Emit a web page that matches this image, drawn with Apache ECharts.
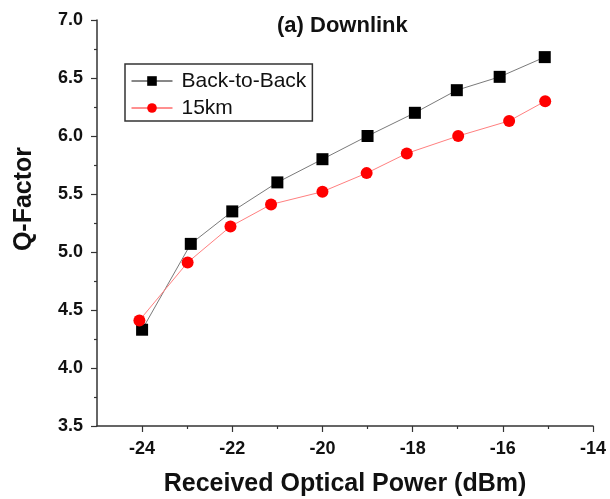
<!DOCTYPE html>
<html>
<head>
<meta charset="utf-8">
<script src="https://cdn.jsdelivr.net/npm/echarts@6/dist/echarts.min.js"></script>
<style>
html,body{margin:0;padding:0;background:#fff;}
#chart{width:610px;height:499px;}
</style>
</head>
<body>
<div id="chart"></div>
<script>
// ---- data ----
const titleText = '(a) Downlink';
const xName = 'Received Optical Power (dBm)';
const yName = 'Q-Factor';
const seriesNames = ['Back-to-Back', '15km'];
const b2bX = [-24, -22.92, -22, -21, -20, -19, -17.95, -17.02, -16.07, -15.07];
const b2bY = [4.33, 5.07, 5.35, 5.60, 5.80, 6.00, 6.20, 6.395, 6.51, 6.68];
const km15X = [-24.06, -22.99, -22.04, -21.14, -20.0, -19.02, -18.13, -16.99, -15.86, -15.06];
const km15Y = [4.41, 4.91, 5.22, 5.41, 5.52, 5.68, 5.85, 6.00, 6.13, 6.30];
const xMajorTicks = [-24, -22, -20, -18, -16, -14];
const xMinorTicks = [-23, -21, -19, -17, -15];
const yMin = 3.5, yMax = 7.0, yStep = 0.5;
const xMin = -25, xMax = -14;

const FONT = '"Liberation Sans", Arial, sans-serif';
const AXIS_COLOR = '#333';

const chart = echarts.init(document.getElementById('chart'), null, {renderer: 'canvas'});
chart.setOption({
  backgroundColor: '#fff',
  animation: false,
  title: {
    text: titleText,
    left: 277, top: 15, padding: 0,
    textStyle: {fontFamily: FONT, fontSize: 22, fontWeight: 'bold', color: '#111'}
  },
  legend: {
    orient: 'vertical',
    left: 125, top: 64,
    padding: [6, 6, 2, 6],
    borderColor: '#333', borderWidth: 1.5,
    itemWidth: 41, itemHeight: 12, itemGap: 5,
    textStyle: {fontFamily: FONT, fontSize: 21, color: '#111', lineHeight: 22, padding: [0, 0, 0, 4]},
    data: [
      {name: seriesNames[0], lineStyle: {color: '#111', width: 1}},
      {name: seriesNames[1], lineStyle: {color: '#ff2020', width: 1}}
    ]
  },
  grid: {left: 97, right: 17, top: 20, bottom: 73, containLabel: false, outerBoundsMode: 'none'},
  xAxis: [{
    type: 'value', min: xMin, max: xMax, position: 'bottom',
    name: xName, nameLocation: 'middle', nameGap: 46,
    nameTextStyle: {fontFamily: FONT, fontSize: 25, fontWeight: 'bold', color: '#111'},
    axisLine: {show: true, onZero: false, lineStyle: {color: AXIS_COLOR, width: 1.5}},
    axisTick: {show: true, inside: false, length: 6, customValues: xMajorTicks, lineStyle: {color: AXIS_COLOR, width: 1.2}},
    axisLabel: {show: true, margin: 14, customValues: xMajorTicks, fontFamily: FONT, fontSize: 18, fontWeight: 'bold', color: '#111'},
    splitLine: {show: false}
  }, {
    type: 'value', min: xMin, max: xMax, position: 'bottom', offset: 0,
    axisLine: {show: false, onZero: false},
    axisTick: {show: true, inside: false, length: 3, customValues: xMinorTicks, lineStyle: {color: AXIS_COLOR, width: 1.2}},
    axisLabel: {show: false},
    splitLine: {show: false}
  }],
  yAxis: {
    type: 'value', min: yMin, max: yMax, interval: yStep,
    name: yName, nameLocation: 'middle', nameGap: 60,
    nameTextStyle: {fontFamily: FONT, fontSize: 25, fontWeight: 'bold', color: '#111', padding: [0, 0, 0, 48]},
    axisLine: {show: true, onZero: false, lineStyle: {color: AXIS_COLOR, width: 1.5}},
    axisTick: {show: true, inside: false, length: 6, lineStyle: {color: AXIS_COLOR, width: 1.2}},
    minorTick: {show: true, splitNumber: 2, length: 3, lineStyle: {color: AXIS_COLOR, width: 1.2}},
    axisLabel: {margin: 14, fontFamily: FONT, fontSize: 18, fontWeight: 'bold', color: '#111',
      formatter: v => v.toFixed(1)},
    splitLine: {show: false}
  },
  series: [{
    name: seriesNames[0], type: 'line', xAxisIndex: 0,
    data: b2bX.map((x, i) => [x, b2bY[i]]),
    symbol: 'rect', symbolSize: 12,
    itemStyle: {color: '#000'},
    lineStyle: {color: '#7a7a7a', width: 1}
  }, {
    name: seriesNames[1], type: 'line', xAxisIndex: 0,
    data: km15X.map((x, i) => [x, km15Y[i]]),
    symbol: 'circle', symbolSize: 12,
    itemStyle: {color: '#ff0000'},
    lineStyle: {color: '#ff8080', width: 1}
  }]
});
</script>
</body>
</html>
